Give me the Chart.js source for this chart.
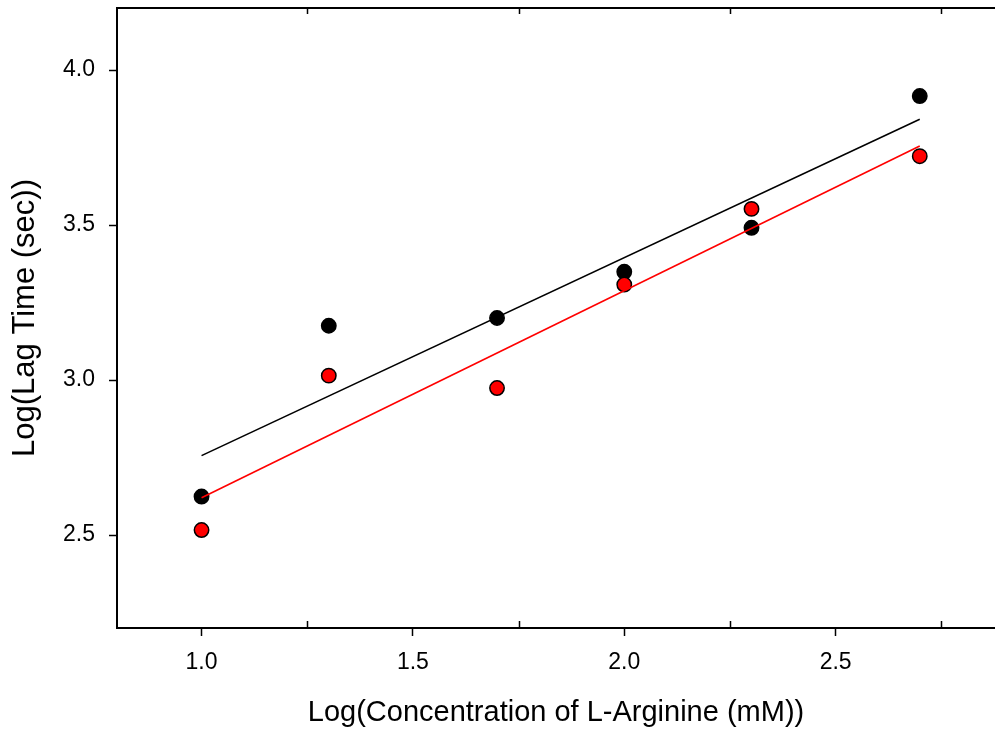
<!DOCTYPE html>
<html>
<head>
<meta charset="utf-8">
<title>Lag time vs L-Arginine</title>
<script src="https://cdn.jsdelivr.net/npm/chart.js@4.4.1/dist/chart.umd.min.js"></script>
<style>
  html, body { margin: 0; padding: 0; background: #fff; }
  #wrap { width: 995px; height: 733px; }
</style>
</head>
<body>
<div id="wrap"><canvas id="chart" width="995" height="733"></canvas></div>
<script>
// ---- data ----
const logConc = [1.0, 1.301, 1.699, 2.0, 2.301, 2.699];          // log(mM)
const lagBlack = [2.624, 3.175, 3.200, 3.349, 3.491, 3.916];      // black points
const lagRed = [2.516, 3.014, 2.974, 3.308, 3.552, 3.722];        // red points

// fitted lines (end points)
const fitX = [1.0, 2.699];
const fitBlack = [2.756, 3.841];
const fitRed = [2.620, 3.755];

// axes
const xTicks = [1.0, 1.5, 2.0, 2.5];
const xMinorTicks = [1.25, 1.75, 2.25, 2.75];
const yTicks = [2.5, 3.0, 3.5, 4.0];
const xRange = [0.8, 2.877];
const yRange = [2.2, 4.2];

const xTitle = "Log(Concentration of L-Arginine (mM))";
const yTitle = "Log(Lag Time (sec))";

const pts = (xs, ys) => xs.map((x, i) => ({ x, y: ys[i] }));

// top frame line + inward minor ticks
const framePlugin = {
  id: "frame",
  afterDatasetsDraw(chart) {
    const { ctx, chartArea: a, scales: { x } } = chart;
    ctx.save();
    ctx.strokeStyle = "#000";
    ctx.lineWidth = 2;
    ctx.beginPath();
    ctx.moveTo(a.left - 1, a.top);
    ctx.lineTo(a.right, a.top);
    ctx.stroke();
    ctx.lineWidth = 1.5;
    xMinorTicks.forEach(v => {
      const px = Math.round(x.getPixelForValue(v)) + 0.5;
      ctx.beginPath();
      ctx.moveTo(px, a.bottom);
      ctx.lineTo(px, a.bottom - 7);
      ctx.moveTo(px, a.top);
      ctx.lineTo(px, a.top + 6);
      ctx.stroke();
    });
    ctx.restore();
  }
};

const fam = "'Liberation Sans', Arial, sans-serif";
const tickFont = { family: fam, size: 23 };

new Chart(document.getElementById("chart").getContext("2d"), {
  type: "scatter",
  data: {
    datasets: [
      {
        type: "line", data: pts(fitX, fitRed), borderColor: "#ff0000",
        borderWidth: 1.6, pointRadius: 0, fill: false
      },
      {
        type: "line", data: pts(fitX, fitBlack), borderColor: "#000",
        borderWidth: 1.6, pointRadius: 0, fill: false
      },
      {
        data: pts(logConc, lagRed), backgroundColor: "#ff0000",
        borderColor: "#000", borderWidth: 1.5, pointRadius: 7.2
      },
      {
        data: pts(logConc, lagBlack), backgroundColor: "#000",
        borderColor: "#000", borderWidth: 1.5, pointRadius: 7.2
      }
    ]
  },
  options: {
    responsive: false,
    animation: false,
    clip: false,
    layout: { autoPadding: false, padding: { top: 8, right: 0, left: 0, bottom: 0 } },
    plugins: { legend: { display: false }, tooltip: { enabled: false } },
    scales: {
      x: {
        type: "linear", min: xRange[0], max: xRange[1],
        afterBuildTicks: s => { s.ticks = xTicks.map(v => ({ value: v })); },
        afterFit: s => { s.height = 105; s.paddingLeft = 0; s.paddingRight = 0; },
        ticks: { color: "#000", font: tickFont, padding: 13, maxRotation: 0,
                 callback: v => Number(v).toFixed(1) },
        grid: { display: true, drawOnChartArea: false, drawTicks: true,
                tickLength: 8, tickWidth: 1.5, tickColor: "#000" },
        border: { display: true, color: "#000", width: 2 },
        title: { display: true, text: xTitle, color: "#000",
                 font: { family: fam, size: 29 }, padding: { top: 0, bottom: 3 } }
      },
      y: {
        type: "linear", min: yRange[0], max: yRange[1],
        afterBuildTicks: s => { s.ticks = yTicks.map(v => ({ value: v })); },
        afterFit: s => { s.width = 117; s.paddingTop = 0; s.paddingBottom = 0; },
        ticks: { color: "#000", font: tickFont, padding: 14,
                 callback: v => Number(v).toFixed(1) },
        grid: { display: true, drawOnChartArea: false, drawTicks: true,
                tickLength: 8, tickWidth: 1.5, tickColor: "#000" },
        border: { display: true, color: "#000", width: 2 },
        title: { display: true, text: yTitle, color: "#000",
                 font: { family: fam, size: 31 }, padding: { top: 7, bottom: 0 } }
      }
    }
  },
  plugins: [framePlugin]
});
</script>
</body>
</html>
